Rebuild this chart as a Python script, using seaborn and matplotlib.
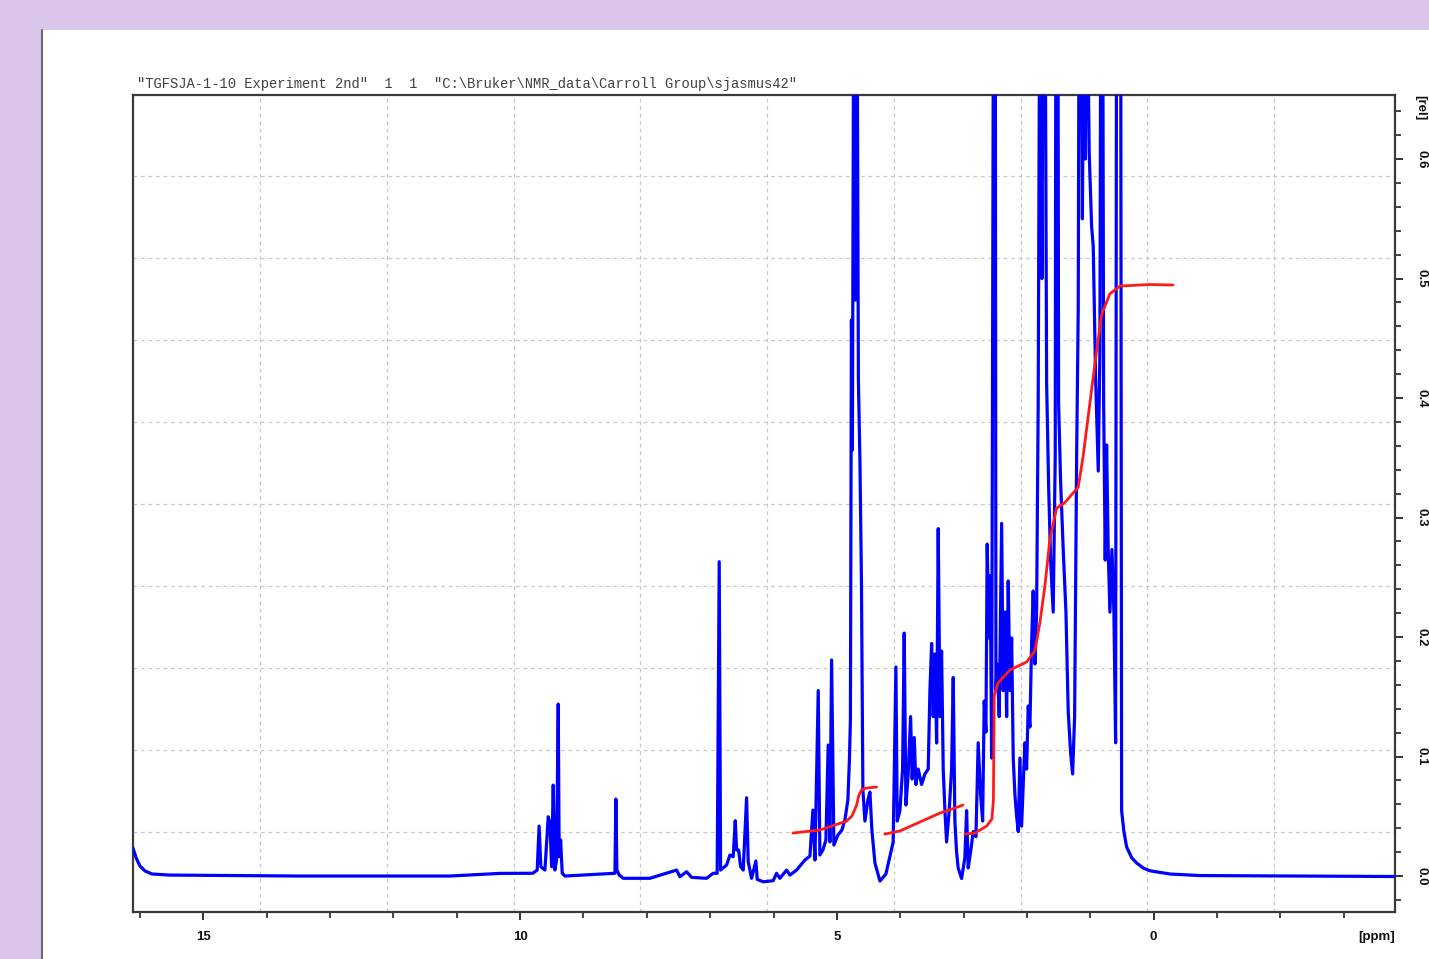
import numpy as np
import matplotlib
matplotlib.use("Agg")
import matplotlib.pyplot as plt
from matplotlib.patches import Rectangle
from matplotlib.lines import Line2D
import seaborn as sns

# ---------------- data ----------------
TITLE = '"TGFSJA-1-10 Experiment 2nd"  1  1  "C:\\Bruker\\NMR_data\\Carroll Group\\sjasmus42"'

SPEC_PPM = [
    16.11, 16.06, 16.00, 15.92, 15.81, 15.53, 13.48, 11.11, 10.32, 9.80,
    9.73, 9.70, 9.672, 9.608, 9.556, 9.529, 9.502, 9.477, 9.451, 9.424,
    9.398, 9.383, 9.360, 9.335, 9.293, 8.503, 8.488, 8.472, 8.435, 8.372,
    7.951, 7.529, 7.477, 7.372, 7.293, 7.056, 6.952, 6.889, 6.857, 6.835,
    6.740, 6.688, 6.636, 6.604, 6.582, 6.551, 6.519, 6.478, 6.425, 6.399,
    6.346, 6.278, 6.257, 6.162, 6.005, 5.951, 5.899, 5.793, 5.741, 5.635,
    5.583, 5.504, 5.425, 5.378, 5.346, 5.294, 5.268, 5.220, 5.173, 5.137,
    5.110, 5.083, 5.047, 4.983, 4.920, 4.873, 4.826, 4.802, 4.786, 4.770,
    4.755, 4.731, 4.707, 4.684, 4.660, 4.636, 4.612, 4.589, 4.557, 4.510,
    4.478, 4.447, 4.399, 4.320, 4.226, 4.147, 4.111, 4.068, 4.047, 4.005,
    3.962, 3.937, 3.910, 3.874, 3.836, 3.811, 3.779, 3.752, 3.716, 3.662,
    3.610, 3.558, 3.531, 3.504, 3.479, 3.452, 3.425, 3.400, 3.373, 3.347,
    3.321, 3.294, 3.268, 3.227, 3.189, 3.163, 3.137, 3.110, 3.085, 3.031,
    2.979, 2.952, 2.927, 2.889, 2.848, 2.805, 2.769, 2.731, 2.699, 2.674,
    2.647, 2.627, 2.600, 2.579, 2.557, 2.541, 2.526, 2.500, 2.489, 2.469,
    2.437, 2.399, 2.374, 2.347, 2.320, 2.295, 2.268, 2.241, 2.216, 2.189,
    2.163, 2.137, 2.111, 2.084, 2.058, 2.032, 2.005, 1.979, 1.953, 1.926,
    1.901, 1.874, 1.847, 1.822, 1.795, 1.763, 1.740, 1.716, 1.689, 1.657,
    1.626, 1.585, 1.553, 1.542, 1.511, 1.500, 1.468, 1.427, 1.384, 1.348,
    1.310, 1.279, 1.247, 1.215, 1.190, 1.174, 1.148, 1.124, 1.100, 1.077,
    1.058, 1.017, 0.979, 0.953, 0.916, 0.874, 0.848, 0.832, 0.805, 0.789,
    0.764, 0.742, 0.717, 0.690, 0.658, 0.627, 0.600, 0.584, 0.521, 0.505,
    0.469, 0.426, 0.347, 0.268, 0.164, 0.058, -0.257, -0.731, -2.309, -3.809,
]
SPEC_INT = [
    0.0234, 0.0151, 0.0084, 0.0042, 0.0017, 0.0008, 0.0000, 0.0000, 0.0022, 0.0023,
    0.0050, 0.0418, 0.0078, 0.0050, 0.0496, 0.0444, 0.0078, 0.0761, 0.0050, 0.0134,
    0.1439, 0.0162, 0.0301, 0.0023, 0.0000, 0.0023, 0.0644, 0.0050, 0.0008, -0.0019,
    -0.0019, 0.0050, -0.0006, 0.0036, -0.0011, -0.0019, 0.0023, 0.0023, 0.2630, 0.0050,
    0.0092, 0.0176, 0.0162, 0.0463, 0.0218, 0.0218, 0.0078, 0.0050, 0.0655, 0.0120,
    -0.0019, 0.0126, -0.0028, -0.0048, -0.0039, 0.0023, -0.0019, 0.0050, 0.0008, 0.0050,
    0.0084, 0.0134, 0.0167, 0.0552, 0.0134, 0.1552, 0.0176, 0.0218, 0.0301, 0.1096,
    0.0285, 0.1808, 0.0259, 0.0343, 0.0385, 0.0469, 0.0636, 0.0971, 0.1305, 0.4653,
    0.3565, 0.8000, 0.4820, 0.8000, 0.4150, 0.3480, 0.2477, 0.0720, 0.0460, 0.0636,
    0.0703, 0.0385, 0.0109, -0.0042, 0.0017, 0.0201, 0.0285, 0.1749, 0.0460, 0.0547,
    0.0895, 0.2033, 0.0594, 0.0854, 0.1334, 0.0812, 0.1159, 0.0766, 0.0895, 0.0766,
    0.0854, 0.0895, 0.1552, 0.1946, 0.1334, 0.1858, 0.1113, 0.2907, 0.1334, 0.1883,
    0.0895, 0.0547, 0.0285, 0.0547, 0.0895, 0.1661, 0.0460, 0.0200, 0.0067, -0.0021,
    0.0154, 0.0547, 0.0067, 0.0201, 0.0372, 0.0329, 0.1115, 0.0678, 0.0460, 0.1464,
    0.1205, 0.2778, 0.1992, 0.2514, 0.0987, 0.4611, 0.8000, 0.8000, 0.1552, 0.1774,
    0.1334, 0.2951, 0.1552, 0.2209, 0.1334, 0.2469, 0.1552, 0.1992, 0.0987, 0.0678,
    0.0502, 0.0372, 0.0987, 0.0418, 0.0766, 0.1115, 0.0895, 0.1423, 0.1247, 0.1946,
    0.2385, 0.1774, 0.2209, 0.3958, 0.8000, 0.5000, 0.8000, 0.8000, 0.4134, 0.3255,
    0.2644, 0.2209, 0.3519, 0.8000, 0.8000, 0.3958, 0.3300, 0.2732, 0.2209, 0.1377,
    0.1029, 0.0854, 0.1334, 0.3519, 0.4745, 0.8000, 0.8000, 0.5500, 0.8000, 0.6000,
    0.8000, 0.6053, 0.5441, 0.5266, 0.4176, 0.3389, 0.4393, 0.8000, 0.8000, 0.3958,
    0.2644, 0.3607, 0.2732, 0.2209, 0.2732, 0.2209, 0.1115, 0.8000, 0.8000, 0.0547,
    0.0372, 0.0243, 0.0154, 0.0109, 0.0067, 0.0044, 0.0017, 0.0004, 0.0000, -0.0004,
]

INT1_PPM = [5.694, 5.268, 4.846, 4.762, 4.688, 4.652, 4.609, 4.541, 4.373]
INT1_VAL = [0.0360, 0.0385, 0.0460, 0.0502, 0.0594, 0.0678, 0.0720, 0.0736, 0.0745]

INT2_PPM = [4.242, 4.005, 3.689, 3.373, 3.137, 3.010]
INT2_VAL = [0.0351, 0.0377, 0.0452, 0.0527, 0.0569, 0.0594]

INT3_PPM = [2.979, 2.821, 2.636, 2.553, 2.529, 2.516, 2.458, 2.268, 2.005, 1.874,
            1.795, 1.716, 1.637, 1.531, 1.400, 1.190, 1.111, 1.006, 0.900, 0.821,
            0.690, 0.532, 0.058, -0.305]
INT3_VAL = [0.0351, 0.0360, 0.0418, 0.0477, 0.0636, 0.1506, 0.1615, 0.1724, 0.1791, 0.1883,
            0.2121, 0.2427, 0.2820, 0.3079, 0.3126, 0.3255, 0.3519, 0.3958, 0.4393, 0.4699,
            0.4873, 0.4937, 0.4950, 0.4946]

X_MAJOR = [15, 10, 5, 0]
X_MAJOR_LABELS = ["15", "10", "5", "0"]
Y_MAJOR = [0.0, 0.1, 0.2, 0.3, 0.4, 0.5, 0.6]
Y_MAJOR_LABELS = ["0.0", "0.1", "0.2", "0.3", "0.4", "0.5", "0.6"]
GRID_PPM = [14.1, 12.1, 10.1, 8.1, 6.1, 4.1, 2.1, 0.1, -1.9]
GRID_REL = [0.0372, 0.1054, 0.1740, 0.2427, 0.3110, 0.3800, 0.4485, 0.5170, 0.5860]

# ---------------- figure ----------------
sns.set_theme(style="white")
plt.rcParams["font.family"] = ["Liberation Sans", "DejaVu Sans"]

W, H = 1429, 959
fig = plt.figure(figsize=(W / 100, H / 100), dpi=100, facecolor="#D9C6EA")
fig.patches.append(Rectangle((42 / W, 0), 1, (H - 30) / H, transform=fig.transFigure,
                             facecolor="white", edgecolor="none", zorder=-10))
fig.lines.append(Line2D([42 / W, 42 / W], [0, (H - 30) / H], transform=fig.transFigure,
                        color="#6a6a6a", lw=1.5, zorder=-9))

ax = fig.add_axes([133 / W, 47 / H, 1262 / W, 817 / H])
ax.set_zorder(5)
ax.set_facecolor("white")

grid_kw = dict(color="#c9c9c9", lw=0.9, ls=(0, (3, 3)), zorder=0)
for g in GRID_PPM:
    ax.axvline(g, **grid_kw)
for g in GRID_REL:
    ax.axhline(g, **grid_kw)

sns.lineplot(x=SPEC_PPM, y=SPEC_INT, ax=ax, sort=False, estimator=None,
             color="#0000FF", lw=2.3, zorder=3)
for xs, ys in [(INT1_PPM, INT1_VAL), (INT2_PPM, INT2_VAL), (INT3_PPM, INT3_VAL)]:
    sns.lineplot(x=xs, y=ys, ax=ax, sort=False, estimator=None,
                 color="#FF1A1A", lw=2.0, zorder=4)

ax.set_xlim(16.11, -3.81)
ax.set_ylim(-0.0301, 0.6536)
ax.set_xlabel("")
ax.set_ylabel("")

ax.set_xticks(X_MAJOR)
ax.set_xticklabels(X_MAJOR_LABELS, fontsize=9.5, fontweight="bold")
ax.set_xticks(np.arange(-3, 17, 1), minor=True)

ax.yaxis.tick_right()
ax.set_yticks(Y_MAJOR)
ax.set_yticklabels(Y_MAJOR_LABELS, fontsize=9.5, fontweight="bold",
                   rotation=-90, va="center")
ax.set_yticks(np.arange(-0.02, 0.65, 0.02), minor=True)

ax.tick_params(axis="both", which="major", direction="out", length=6, width=1.3,
               color="#222222", labelcolor="#111111")
ax.tick_params(axis="both", which="minor", direction="out", length=4, width=1.2,
               color="#222222")
ax.tick_params(axis="x", which="major", pad=8, bottom=True)
ax.tick_params(axis="x", which="minor", bottom=True)
ax.tick_params(axis="y", which="both", right=True, left=False)
ax.tick_params(axis="y", which="major", pad=9)

for s in ax.spines.values():
    s.set_color("#3a3a3a")
    s.set_linewidth(1.6)
    s.set_visible(True)

ax.text(1.0, -0.031, "[ppm]", transform=ax.transAxes, ha="right", va="center",
        fontsize=9.5, fontweight="bold", color="#111111")
ax.text(1.0198, 0.984, "[rel]", transform=ax.transAxes, ha="center", va="center",
        fontsize=9.5, fontweight="bold", rotation=-90, color="#111111")

fig.text(137 / W, (H - 84) / H, TITLE, ha="left", va="center",
         fontsize=9.9, color="#404040",
         family=["Liberation Mono", "DejaVu Sans Mono"])

fig.savefig("out.png", dpi=100, facecolor=fig.get_facecolor())
